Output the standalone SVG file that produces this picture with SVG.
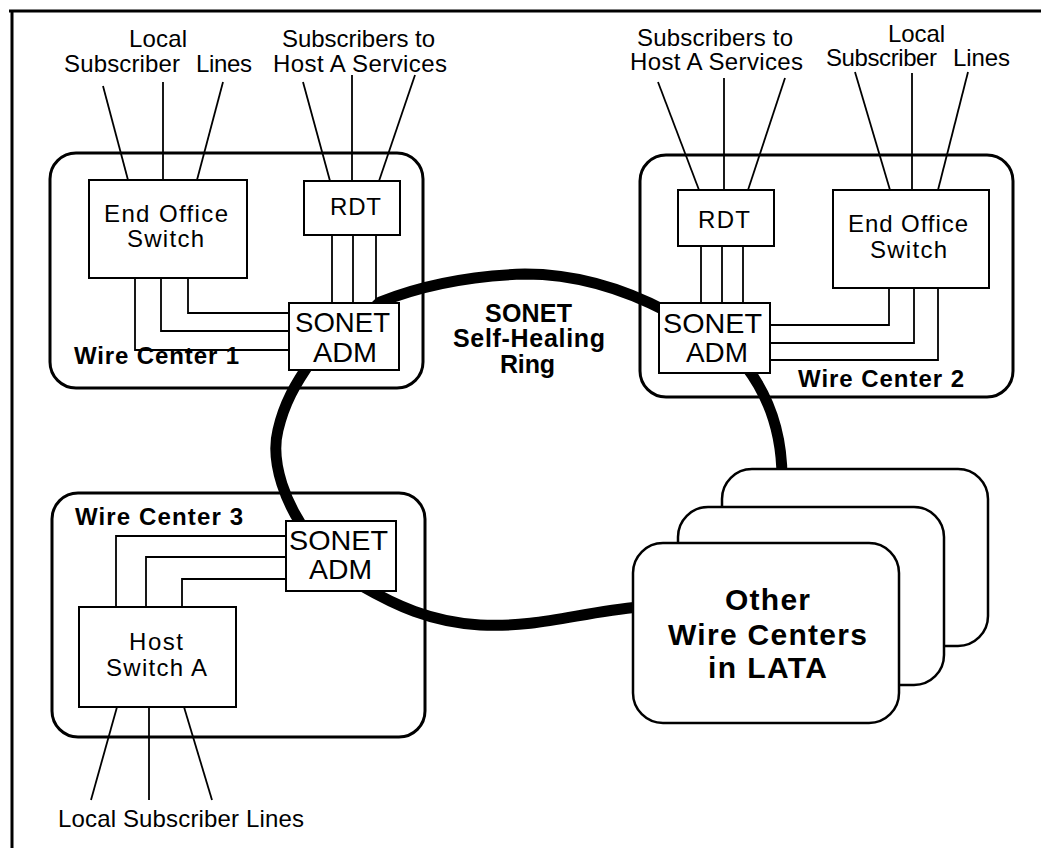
<svg xmlns="http://www.w3.org/2000/svg" width="1041" height="848" viewBox="0 0 1041 848">
  <style>
    .frame { stroke: #000; stroke-width: 3; fill: none; }
    .wc { fill: #fff; stroke: #000; stroke-width: 3; }
    .box { fill: #fff; stroke: #000; stroke-width: 2; }
    .stack { fill: #fff; stroke: #000; stroke-width: 2.5; }
    .wire { fill: none; stroke: #000; stroke-width: 1.8; }
    .ring { fill: none; stroke: #000; stroke-width: 11; stroke-linejoin: round; }
    text { font-family: "Liberation Sans", Arial, sans-serif; fill: #000; }
    .lbl { font-size: 24px; }
    .adm { font-size: 28px; }
    .bold { font-size: 24px; font-weight: bold; }
    .mid { font-size: 25px; font-weight: bold; }
    .big { font-size: 30px; font-weight: bold; }
  </style>

  <!-- page frame (top and left rules) -->
  <line class="frame" x1="9" y1="11" x2="1041" y2="11"/>
  <line class="frame" x1="12" y1="10" x2="12" y2="848"/>

  <!-- wire center enclosures -->
  <g id="wire-center-1">
    <rect class="wc" x="50" y="153" width="373" height="235" rx="26" ry="26"/>
    <text class="bold" x="74" y="364" textLength="165" lengthAdjust="spacing">Wire Center 1</text>
  </g>
  <g id="wire-center-2">
    <rect class="wc" x="640" y="155" width="373" height="242" rx="26" ry="26"/>
    <text class="bold" x="798" y="387" textLength="166" lengthAdjust="spacing">Wire Center 2</text>
  </g>
  <g id="wire-center-3">
    <rect class="wc" x="52" y="493" width="373" height="244" rx="26" ry="26"/>
    <text class="bold" x="75" y="525" textLength="168" lengthAdjust="spacing">Wire Center 3</text>
  </g>

  <!-- subscriber line labels -->
  <g id="labels">
    <text class="lbl" x="129" y="47" textLength="58" lengthAdjust="spacing">Local</text>
    <text class="lbl" x="64" y="72" textLength="116" lengthAdjust="spacing">Subscriber</text>
    <text class="lbl" x="196" y="72" textLength="56" lengthAdjust="spacing">Lines</text>
    <text class="lbl" x="282" y="47" textLength="153" lengthAdjust="spacing">Subscribers to</text>
    <text class="lbl" x="273" y="72" textLength="174" lengthAdjust="spacing">Host A Services</text>

    <text class="lbl" x="637" y="46" textLength="156" lengthAdjust="spacing">Subscribers to</text>
    <text class="lbl" x="630" y="70" textLength="173" lengthAdjust="spacing">Host A Services</text>
    <text class="lbl" x="888" y="42" textLength="57" lengthAdjust="spacing">Local</text>
    <text class="lbl" x="826" y="66" textLength="111" lengthAdjust="spacing">Subscriber</text>
    <text class="lbl" x="953" y="66" textLength="57" lengthAdjust="spacing">Lines</text>

    <text class="lbl" x="58" y="827" textLength="246" lengthAdjust="spacing">Local Subscriber Lines</text>

    <text class="mid" x="485" y="322" textLength="87" lengthAdjust="spacing">SONET</text>
    <text class="mid" x="453" y="347" textLength="152" lengthAdjust="spacing">Self-Healing</text>
    <text class="mid" x="500" y="373" textLength="55" lengthAdjust="spacing">Ring</text>
  </g>

  <!-- connectors -->
  <g id="connectors">
    <!-- Wire Center 1 subscriber fans -->
    <line class="wire" x1="103" y1="86" x2="128" y2="180"/>
    <line class="wire" x1="163" y1="82" x2="163" y2="180"/>
    <line class="wire" x1="223" y1="82" x2="197" y2="180"/>
    <line class="wire" x1="303" y1="82" x2="330" y2="181"/>
    <line class="wire" x1="352" y1="75" x2="352" y2="181"/>
    <line class="wire" x1="415" y1="75" x2="379" y2="181"/>
    <!-- RDT to ADM -->
    <line class="wire" x1="332" y1="235" x2="332" y2="303"/>
    <line class="wire" x1="353" y1="235" x2="353" y2="303"/>
    <line class="wire" x1="376" y1="235" x2="376" y2="303"/>
    <!-- End Office to ADM -->
    <polyline class="wire" points="188,278 188,313 289,313"/>
    <polyline class="wire" points="161,278 161,331 289,331"/>
    <polyline class="wire" points="135,278 135,350 289,350"/>

    <!-- Wire Center 2 subscriber fans -->
    <line class="wire" x1="658" y1="82" x2="699" y2="190"/>
    <line class="wire" x1="724" y1="78" x2="724" y2="190"/>
    <line class="wire" x1="785" y1="78" x2="748" y2="190"/>
    <line class="wire" x1="855" y1="72" x2="890" y2="190"/>
    <line class="wire" x1="912" y1="73" x2="912" y2="190"/>
    <line class="wire" x1="968" y1="72" x2="938" y2="190"/>
    <line class="wire" x1="701" y1="246" x2="701" y2="303"/>
    <line class="wire" x1="722" y1="246" x2="722" y2="303"/>
    <line class="wire" x1="743" y1="246" x2="743" y2="303"/>
    <polyline class="wire" points="889,288 889,325 770,325"/>
    <polyline class="wire" points="914,288 914,343 770,343"/>
    <polyline class="wire" points="938,288 938,360 770,360"/>

    <!-- Wire Center 3 -->
    <polyline class="wire" points="116,607 116,536 286,536"/>
    <polyline class="wire" points="146,607 146,557 286,557"/>
    <polyline class="wire" points="182,607 182,579 286,579"/>
    <line class="wire" x1="117" y1="707" x2="91" y2="800"/>
    <line class="wire" x1="149" y1="707" x2="149" y2="800"/>
    <line class="wire" x1="184" y1="707" x2="212" y2="800"/>

    <!-- SONET self-healing ring -->
    <path class="ring" d="M 340 340 L 380 302 C 410 290 460 276 525 274 C 580 274 630 292 668 312 L 745 365 C 766 392 782 430 782 478 L 760 600 L 640 607 C 580 612 540 628 480 625 C 430 622 395 605 360 585 L 312 540 C 285 505 270 462 278 430 C 284 404 295 384 312 360 Z"/>
  </g>

  <!-- equipment inside Wire Center 1 -->
  <g id="wc1-end-office">
    <rect class="box" x="89" y="180" width="158" height="98"/>
    <text class="lbl" x="104" y="222" textLength="124" lengthAdjust="spacing">End Office</text>
    <text class="lbl" x="127" y="247" textLength="77" lengthAdjust="spacing">Switch</text>
  </g>
  <g id="wc1-rdt">
    <rect class="box" x="304" y="181" width="96" height="54"/>
    <text class="lbl" x="330" y="215" textLength="51" lengthAdjust="spacing">RDT</text>
  </g>
  <g id="wc1-adm">
    <rect class="box" x="289" y="303" width="110" height="67"/>
    <text class="adm" x="295" y="332" textLength="95" lengthAdjust="spacingAndGlyphs">SONET</text>
    <text class="adm" x="313" y="362" textLength="64" lengthAdjust="spacingAndGlyphs">ADM</text>
  </g>

  <!-- equipment inside Wire Center 2 -->
  <g id="wc2-rdt">
    <rect class="box" x="678" y="190" width="96" height="56"/>
    <text class="lbl" x="698" y="228" textLength="52" lengthAdjust="spacing">RDT</text>
  </g>
  <g id="wc2-end-office">
    <rect class="box" x="833" y="190" width="156" height="98"/>
    <text class="lbl" x="848" y="232" textLength="120" lengthAdjust="spacing">End Office</text>
    <text class="lbl" x="870" y="258" textLength="77" lengthAdjust="spacing">Switch</text>
  </g>
  <g id="wc2-adm">
    <rect class="box" x="659" y="303" width="111" height="70"/>
    <text class="adm" x="663" y="333" textLength="99" lengthAdjust="spacingAndGlyphs">SONET</text>
    <text class="adm" x="686" y="362" textLength="62" lengthAdjust="spacingAndGlyphs">ADM</text>
  </g>

  <!-- equipment inside Wire Center 3 -->
  <g id="wc3-adm">
    <rect class="box" x="286" y="521" width="110" height="70"/>
    <text class="adm" x="289" y="550" textLength="99" lengthAdjust="spacingAndGlyphs">SONET</text>
    <text class="adm" x="309" y="579" textLength="63" lengthAdjust="spacingAndGlyphs">ADM</text>
  </g>
  <g id="wc3-host-switch">
    <rect class="box" x="79" y="607" width="157" height="100"/>
    <text class="lbl" x="129" y="650" textLength="54" lengthAdjust="spacing">Host</text>
    <text class="lbl" x="106" y="676" textLength="101" lengthAdjust="spacing">Switch A</text>
  </g>

  <!-- other wire centers in the LATA, stacked -->
  <g id="other-wire-centers">
    <rect class="stack" x="722" y="469" width="266" height="177" rx="30" ry="30"/>
    <rect class="stack" x="678" y="507" width="266" height="178" rx="30" ry="30"/>
    <rect class="stack" x="633" y="543" width="266" height="180" rx="30" ry="30"/>
    <text class="big" x="725" y="610" textLength="85" lengthAdjust="spacing">Other</text>
    <text class="big" x="668" y="645" textLength="199" lengthAdjust="spacing">Wire Centers</text>
    <text class="big" x="708" y="678" textLength="119" lengthAdjust="spacing">in LATA</text>
  </g>
</svg>
